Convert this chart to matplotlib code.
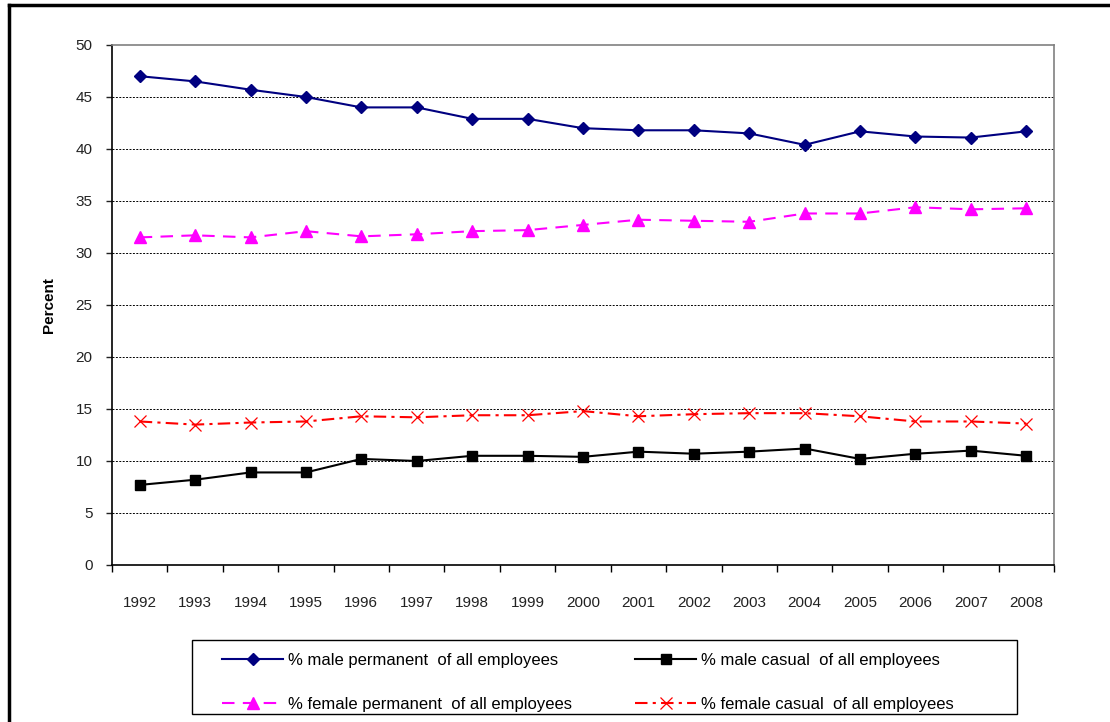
import matplotlib
matplotlib.use('Agg')
import matplotlib.pyplot as plt
from matplotlib.lines import Line2D
from matplotlib.patches import Rectangle

# data
years = [str(y) for y in range(1992, 2009)]
male_perm = [47.0, 46.5, 45.7, 45.0, 44.0, 44.0, 42.9, 42.9, 42.0, 41.8, 41.8, 41.5, 40.4, 41.7, 41.2, 41.1, 41.7]
female_perm = [31.5, 31.7, 31.5, 32.1, 31.6, 31.8, 32.1, 32.2, 32.7, 33.2, 33.1, 33.0, 33.8, 33.8, 34.4, 34.2, 34.3]
male_casual = [7.7, 8.2, 8.9, 8.9, 10.2, 10.0, 10.5, 10.5, 10.4, 10.9, 10.7, 10.9, 11.2, 10.2, 10.7, 11.0, 10.5]
female_casual = [13.8, 13.5, 13.7, 13.8, 14.3, 14.2, 14.4, 14.4, 14.8, 14.3, 14.5, 14.6, 14.6, 14.3, 13.8, 13.8, 13.6]

labels = ['% male permanent  of all employees',
          '% female permanent  of all employees',
          '% male casual  of all employees',
          '% female casual  of all employees']

plt.rcParams['font.family'] = ['Liberation Sans', 'DejaVu Sans']

W, H = 1110, 722
fig = plt.figure(figsize=(W / 100, H / 100), dpi=100)
ax = fig.add_axes([112 / W, 1 - 565 / H, (1054 - 112) / W, (565 - 45) / H])

x = list(range(len(years)))
h1, = ax.plot(x, male_perm, color='#000080', lw=1.5, marker='D', ms=6.5)
h2, = ax.plot(x, female_perm, color='#FF00FF', lw=1.5, ls=(0, (6, 4)), marker='^', ms=8)
h3, = ax.plot(x, male_casual, color='black', lw=1.5, marker='s', ms=7.5)
h4, = ax.plot(x, female_casual, color='#FF0000', lw=1.5, ls=(0, (6, 2.5, 1.5, 2.5)),
              marker='x', ms=8, mew=0.9)

ax.set_xlim(-0.5, len(years) - 0.5)
ax.set_ylim(0, 50)
ax.set_yticks(range(0, 51, 5))
ax.set_xticks(x)
ax.set_xticklabels(years)
ax.set_xticks([i - 0.5 for i in range(len(years) + 1)], minor=True)
ax.tick_params(axis='x', which='major', length=0, pad=22, labelsize=11, colors='#222222')
ax.tick_params(axis='x', which='minor', length=5, width=1, direction='out')
ax.tick_params(axis='y', length=4, width=1, pad=10, labelsize=11, colors='#222222')

for yv in range(5, 50, 5):
    ax.axhline(yv, color='black', lw=0.7, ls=(0, (2, 1.5)), zorder=0)

for s in ['top', 'right']:
    ax.spines[s].set_color('#808080')
    ax.spines[s].set_linewidth(1.2)
for s in ['left', 'bottom']:
    ax.spines[s].set_color('black')
    ax.spines[s].set_linewidth(1.2)

ax.set_ylabel('Percent', fontsize=11, fontweight='bold')
ax.yaxis.set_label_coords(-0.0595, 0.5)

leg = fig.legend([h1, h2, h3, h4], labels, ncol=2, loc='upper left',
                 bbox_to_anchor=(222 / W, 1 - 653 / H), frameon=False, fontsize=12,
                 handlelength=3.66, numpoints=1, borderpad=0, labelspacing=1.73,
                 columnspacing=3.8, handletextpad=0.3, borderaxespad=0)
fig.add_artist(Rectangle((192 / W, 1 - 714 / H), (1017 - 192) / W, (714 - 640) / H,
                         transform=fig.transFigure, fill=False, edgecolor='black', lw=1.0))

# outer frame (cropped) and the cut-off title above it
fig.add_artist(Line2D([9 / W, 1.0], [1 - 4.5 / H, 1 - 4.5 / H], color='black', lw=2.5,
                      transform=fig.transFigure))
fig.add_artist(Line2D([9 / W, 9 / W], [0, 1 - 4.5 / H], color='black', lw=2.5,
                      transform=fig.transFigure))
fig.text(10 / W, 1 + 4 / H,
         'Figure 4: Changing composition of permanent and casual employees, 1992-2008',
         fontsize=14, fontweight='bold', family=['Liberation Serif', 'DejaVu Serif'],
         va='baseline', ha='left')

fig.savefig('out.png', dpi=100, facecolor='white')
